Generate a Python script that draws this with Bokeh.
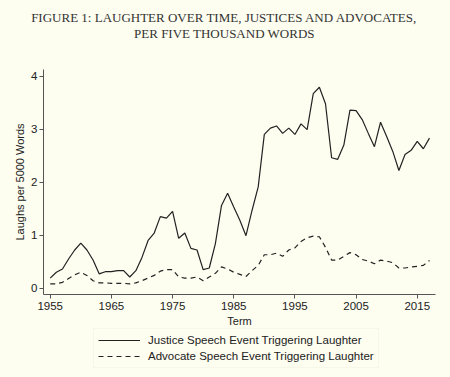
from bokeh.plotting import figure
from bokeh.models import Label, Legend, LegendItem, GlobalInlineStyleSheet
from bokeh.embed import file_html
from bokeh.resources import INLINE

years = list(range(1955, 2018))
justice = [0.19, 0.30, 0.36, 0.55, 0.72, 0.85, 0.72, 0.53, 0.27, 0.31,
           0.31, 0.33, 0.33, 0.21, 0.33, 0.58, 0.90, 1.04, 1.35, 1.32,
           1.45, 0.94, 1.04, 0.75, 0.72, 0.35, 0.38, 0.84, 1.56, 1.79,
           1.53, 1.28, 0.99, 1.47, 1.91, 2.90, 3.02, 3.06, 2.92, 3.02,
           2.90, 3.10, 2.99, 3.67, 3.79, 3.48, 2.46, 2.43, 2.70, 3.36,
           3.35, 3.18, 2.92, 2.67, 3.13, 2.86, 2.58, 2.22, 2.52, 2.60,
           2.77, 2.63, 2.83]
advocate = [0.08, 0.08, 0.11, 0.18, 0.25, 0.30, 0.24, 0.14, 0.10, 0.10,
            0.09, 0.09, 0.09, 0.08, 0.10, 0.14, 0.19, 0.24, 0.32, 0.35,
            0.35, 0.21, 0.19, 0.19, 0.21, 0.14, 0.21, 0.28, 0.40, 0.36,
            0.30, 0.26, 0.22, 0.33, 0.43, 0.63, 0.63, 0.66, 0.60, 0.72,
            0.76, 0.88, 0.95, 0.98, 0.97, 0.77, 0.53, 0.53, 0.60, 0.67,
            0.63, 0.54, 0.51, 0.46, 0.53, 0.51, 0.48, 0.38, 0.38, 0.40,
            0.41, 0.43, 0.52]
x_ticks = [1955, 1965, 1975, 1985, 1995, 2005, 2015]
y_ticks = [0, 1, 2, 3, 4]
series_labels = ["Justice Speech Event Triggering Laughter",
                 "Advocate Speech Event Triggering Laughter"]
title_lines = ["FIGURE 1: LAUGHTER OVER TIME, JUSTICES AND ADVOCATES,",
               "PER FIVE THOUSAND WORDS"]

BG = "#fdfdf0"
INK = "#222222"
AXC = "#555555"

W, H = 450, 377
# axis extents (data units)
X_LO, X_HI = 1953.9, 2018.0
Y_LO, Y_HI = -0.12, 4.12
# the frame covers the whole figure; ranges chosen so the axes sit where the reference has them
PX_PER_YEAR = 6.117
PX_PER_UNIT = 53.0
LEFT_PAD = 43.0      # pixels left of X_LO
TOP_PAD = 70.0       # pixels above Y_HI
BOTTOM_PAD = H - 294.0
x_range = (X_LO - LEFT_PAD / PX_PER_YEAR, X_LO + (W - LEFT_PAD) / PX_PER_YEAR)
y_range = (Y_LO - BOTTOM_PAD / PX_PER_UNIT, Y_LO + (H - BOTTOM_PAD) / PX_PER_UNIT)

p = figure(width=W, height=H, x_range=x_range, y_range=y_range,
           output_backend="svg", toolbar_location=None,
           background_fill_color=BG, border_fill_color=BG, outline_line_color=None,
           min_border_left=0, min_border_right=0, min_border_top=0, min_border_bottom=0)
p.stylesheets = [GlobalInlineStyleSheet(css="html, body { background-color: %s; }" % BG)]
p.title.visible = False

r1 = p.line(years, justice, line_color=INK, line_width=1.2)
r2 = p.line(years, advocate, line_color=INK, line_width=1.2, line_dash="5 4")

p.xgrid.visible = False
p.ygrid.visible = False
for ax in (p.xaxis, p.yaxis):
    ax.axis_line_color = AXC
    ax.major_tick_line_color = AXC
    ax.major_tick_out = 4
    ax.major_tick_in = 0
    ax.minor_tick_line_color = None
    ax.major_label_text_font = "Liberation Sans"
    ax.major_label_text_font_size = "11.5px"
    ax.major_label_text_color = INK
    ax.axis_label_text_font = "Liberation Sans"
    ax.axis_label_text_font_size = "11px"
    ax.axis_label_text_font_style = "normal"
    ax.axis_label_text_color = INK
p.xaxis.major_label_standoff = 3
p.yaxis.major_label_standoff = 2
p.xaxis.axis_label_standoff = 2
p.yaxis.axis_label_standoff = 2
p.xaxis.ticker = x_ticks
p.yaxis.ticker = y_ticks
p.xaxis.fixed_location = Y_LO
p.yaxis.fixed_location = X_LO
p.xaxis.bounds = (X_LO, X_HI)
p.yaxis.bounds = (Y_LO, Y_HI)
p.xaxis.axis_label = "Term"
p.yaxis.axis_label = "Laughs per 5000 Words"

# title, two centred lines above the plot
title_x = X_LO + (224 - LEFT_PAD) / PX_PER_YEAR
for line_text, y_px in zip(title_lines, [17.5, 34.0]):
    p.add_layout(Label(x=title_x, y=Y_HI + (TOP_PAD - y_px) / PX_PER_UNIT,
                       text=line_text, text_align="center", text_baseline="middle",
                       text_font="Liberation Serif", text_font_size="13px",
                       text_color="#333333"))

legend = Legend(items=[LegendItem(label=series_labels[0], renderers=[r1]),
                       LegendItem(label=series_labels[1], renderers=[r2])],
                location=(93, 9), orientation="vertical",
                margin=0, padding=4, spacing=2, glyph_height=14, glyph_width=42,
                label_height=14, label_standoff=8, label_text_font="Liberation Sans",
                label_text_font_size="11.5px", label_text_color=INK,
                border_line_color="#f1f1e2", background_fill_color=BG,
                background_fill_alpha=1.0)
p.add_layout(legend, "center")

open("out.html", "w").write(file_html(p, INLINE))
